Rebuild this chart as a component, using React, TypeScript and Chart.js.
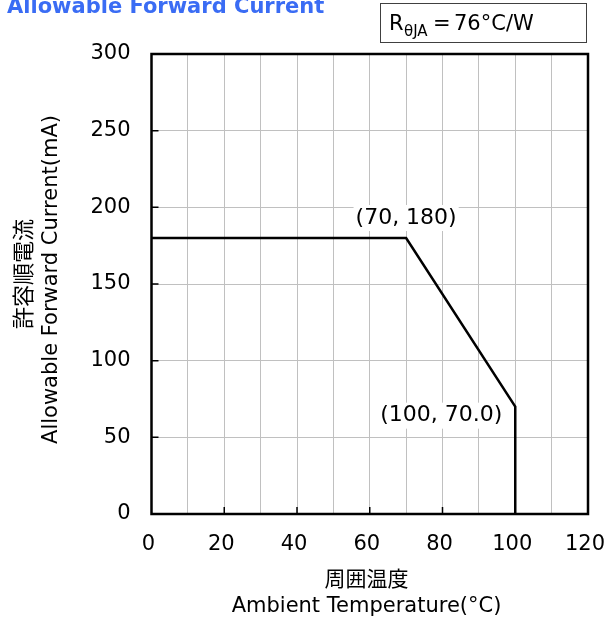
import React, { useEffect, useRef } from 'react';
import { Chart, registerables } from 'chart.js';

Chart.register(...registerables);

// derating curve: ambient temperature (°C) -> allowable forward current (mA)
const temperature = [0, 70, 100, 100];
const allowableCurrent = [180, 180, 70, 0];

// points that carry a data label, and their texts
const labelIndexes = [1, 2];
const labelTexts = ['(70, 180)', '(100, 70.0)'];

const xRange = [0, 120];
const yRange = [0, 300];

// where each data label sits relative to its point (px)
const labelShift = [
  [0, -20],
  [-74, 9],
];

const FONT = '"DejaVu Sans", Verdana, sans-serif';
const CJK = '"Noto Sans CJK JP", sans-serif';

const decorations = {
  id: 'decorations',
  afterDatasetsDraw(chart: any) {
    const { ctx, chartArea: a, scales } = chart;
    const xs = scales.x;
    const ys = scales.y;
    ctx.save();

    // short inward tick marks
    ctx.strokeStyle = '#000';
    ctx.lineWidth = 1.5;
    ctx.beginPath();
    for (let v = 50; v < yRange[1]; v += 50) {
      const py = ys.getPixelForValue(v);
      ctx.moveTo(a.left, py);
      ctx.lineTo(a.left + 7, py);
    }
    for (let v = 20; v < xRange[1]; v += 20) {
      const px = xs.getPixelForValue(v);
      ctx.moveTo(px, a.bottom);
      ctx.lineTo(px, a.bottom - 7);
    }
    ctx.stroke();

    // plot frame
    ctx.lineWidth = 2.5;
    ctx.strokeRect(a.left, a.top, a.right - a.left, a.bottom - a.top);

    // data labels with white fill
    ctx.font = '22px ' + FONT;
    ctx.textAlign = 'center';
    ctx.textBaseline = 'middle';
    labelIndexes.forEach((i, k) => {
      const px = xs.getPixelForValue(temperature[i]) + labelShift[k][0];
      const py = ys.getPixelForValue(allowableCurrent[i]) + labelShift[k][1];
      const w = ctx.measureText(labelTexts[k]).width;
      ctx.fillStyle = '#fff';
      ctx.fillRect(px - w / 2 - 2, py - 13, w + 4, 26);
      ctx.fillStyle = '#000';
      ctx.fillText(labelTexts[k], px, py);
    });
    ctx.restore();
  },
  afterDraw(chart: any) {
    const { ctx } = chart;
    ctx.save();

    // heading, cut at the top edge
    ctx.fillStyle = '#3a6cf4';
    ctx.font = 'bold 21px ' + FONT;
    ctx.textAlign = 'left';
    ctx.textBaseline = 'alphabetic';
    ctx.fillText('Allowable Forward Current', 7, 13);

    // thermal resistance box
    ctx.strokeStyle = '#404040';
    ctx.lineWidth = 1;
    ctx.strokeRect(380.5, 3.5, 206, 39);
    ctx.fillStyle = '#000';
    ctx.font = '21px ' + FONT;
    ctx.fillText('R', 389, 30);
    ctx.font = '15px ' + FONT;
    ctx.fillText('θJA', 404, 36);
    ctx.font = '21px ' + FONT;
    ctx.fillText('=', 433, 30);
    ctx.fillText('76°C/W', 454, 30);

    // axis titles
    ctx.textAlign = 'center';
    ctx.textBaseline = 'middle';
    ctx.font = '21px ' + CJK;
    ctx.fillText('周囲温度', 366.5, 578);
    ctx.font = '21px ' + FONT;
    ctx.fillText('Ambient Temperature(°C)', 366.5, 607);

    ctx.save();
    ctx.translate(23, 274);
    ctx.rotate(-Math.PI / 2);
    ctx.font = '22px ' + CJK;
    ctx.fillText('許容順電流', 0, 0);
    ctx.restore();

    ctx.save();
    ctx.translate(52, 279.5);
    ctx.rotate(-Math.PI / 2);
    ctx.font = '21px ' + FONT;
    ctx.fillText('Allowable Forward Current(mA)', 0, 0);
    ctx.restore();

    ctx.restore();
  },
};

const App: React.FC = () => {
  const canvasRef = useRef<HTMLCanvasElement | null>(null);

  useEffect(() => {
    if (!canvasRef.current) return;
    const chart = new Chart(canvasRef.current, {
      type: 'line',
      data: {
        datasets: [
          {
            data: temperature.map((t, i) => ({ x: t, y: allowableCurrent[i] })),
            borderColor: '#000',
            borderWidth: 2.5,
            pointRadius: 0,
            tension: 0,
            fill: false,
            clip: false as any,
          },
        ],
      },
      options: {
        responsive: false,
        animation: false,
        layout: { padding: { top: 54, right: 18, left: 0, bottom: 0 } },
        plugins: {
          legend: { display: false },
          tooltip: { enabled: false },
        },
        scales: {
          x: {
            type: 'linear',
            min: xRange[0],
            max: xRange[1],
            grid: { color: '#c0c0c0', lineWidth: 1, drawTicks: false },
            border: { display: false },
            ticks: {
              stepSize: 10,
              autoSkip: false,
              maxRotation: 0,
              padding: 18,
              labelOffset: -3,
              color: '#000',
              font: { family: FONT, size: 21 },
              callback: (v: any) => (Number(v) % 20 === 0 ? String(v) : ''),
            },
            afterFit: (s: any) => {
              s.height = 109;
              s.paddingLeft = 0;
              s.paddingRight = 0;
            },
          },
          y: {
            type: 'linear',
            min: yRange[0],
            max: yRange[1],
            grid: { color: '#c0c0c0', lineWidth: 1, drawTicks: false },
            border: { display: false },
            ticks: {
              stepSize: 50,
              padding: 21,
              color: '#000',
              font: { family: FONT, size: 21 },
            },
            afterFit: (s: any) => {
              s.width = 151.5;
              s.paddingTop = 0;
              s.paddingBottom = 0;
            },
          },
        },
      },
      plugins: [decorations],
    });
    return () => chart.destroy();
  }, []);

  return (
    <div style={{ position: 'absolute', left: 0, top: 0, width: 606, height: 623, background: '#fff' }}>
      <canvas ref={canvasRef} width={606} height={623} />
    </div>
  );
};

export default App;
